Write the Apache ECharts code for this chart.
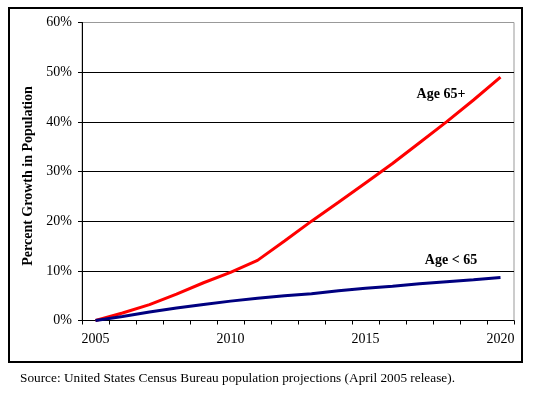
<!DOCTYPE html>
<html>
<head>
<meta charset="utf-8">
<script src="https://cdn.jsdelivr.net/npm/echarts@6/dist/echarts.min.js"></script>
<style>
html,body{margin:0;padding:0;background:#fff;}
#chart{width:533px;height:395px;}
</style>
</head>
<body>
<div id="chart"></div>
<script>
var years = ['2005','2006','2007','2008','2009','2010','2011','2012','2013','2014','2015','2016','2017','2018','2019','2020'];
var age65plus = [0, 1.5, 3.2, 5.3, 7.6, 9.7, 12.1, 16.0, 20.0, 23.8, 27.7, 31.6, 35.8, 40.0, 44.4, 49.0];
var ageUnder65 = [0, 0.8, 1.7, 2.5, 3.2, 3.9, 4.5, 5.0, 5.4, 6.0, 6.5, 6.9, 7.4, 7.8, 8.2, 8.65];
var yTicks = [0, 10, 20, 30, 40, 50, 60];
var seriesNames = ['Age 65+', 'Age < 65'];
var yTitle = 'Percent Growth in Population';
var sourceText = 'Source: United States Census Bureau population projections (April 2005 release).';

var serif = '"Liberation Serif", "Times New Roman", serif';
var chart = echarts.init(document.getElementById('chart'), null, {renderer:'canvas'});
chart.setOption({
  animation: false,
  backgroundColor: '#fff',
  grid: {left: 82, top: 22.5, right: 19, bottom: 74.5, show: true, borderColor: '#999', borderWidth: 1},
  xAxis: {
    type: 'category',
    data: years,
    boundaryGap: true,
    axisLine: {lineStyle: {color: '#000', width: 1}},
    axisTick: {show: true, interval: 0, length: 4, inside: false, lineStyle: {color: '#000', width: 1}},
    axisLabel: {interval: 4, margin: 12, color: '#000', fontFamily: serif, fontSize: 14}
  },
  yAxis: {
    type: 'value',
    min: yTicks[0], max: yTicks[yTicks.length-1], interval: 10,
    axisLine: {show: true, lineStyle: {color: '#000', width: 1}},
    axisTick: {show: true, length: 4, lineStyle: {color: '#000'}},
    axisLabel: {formatter: '{value}%', margin: 10, color: '#000', fontFamily: serif, fontSize: 14},
    splitLine: {show: true, lineStyle: {color: ['#000','#000','#000','#000','#000','#000','#999'], width: 1}}
  },
  series: [
    {name: seriesNames[0], type: 'line', data: age65plus, symbol: 'none', lineStyle: {color: '#ff0000', width: 3}, z: 3},
    {name: seriesNames[1], type: 'line', data: ageUnder65, symbol: 'none', lineStyle: {color: '#000080', width: 3}, z: 4}
  ],
  graphic: [
    {type: 'rect', shape: {x: 9, y: 8, width: 513, height: 354}, style: {fill: 'none', stroke: '#000', lineWidth: 2}, silent: true},
    {type: 'text', x: 28, y: 176, rotation: Math.PI / 2, style: {text: yTitle, font: 'bold 14px ' + serif, fill: '#000', textAlign: 'center', textVerticalAlign: 'middle'}},
    {type: 'text', x: 441, y: 94, style: {text: seriesNames[0], font: 'bold 14px ' + serif, fill: '#000', textAlign: 'center', textVerticalAlign: 'middle'}},
    {type: 'text', x: 451, y: 260, style: {text: seriesNames[1], font: 'bold 14px ' + serif, fill: '#000', textAlign: 'center', textVerticalAlign: 'middle'}},
    {type: 'text', x: 20, y: 379, style: {text: sourceText, font: '13.3px ' + serif, fill: '#000', textAlign: 'left', textVerticalAlign: 'middle'}}
  ]
});
</script>
</body>
</html>
